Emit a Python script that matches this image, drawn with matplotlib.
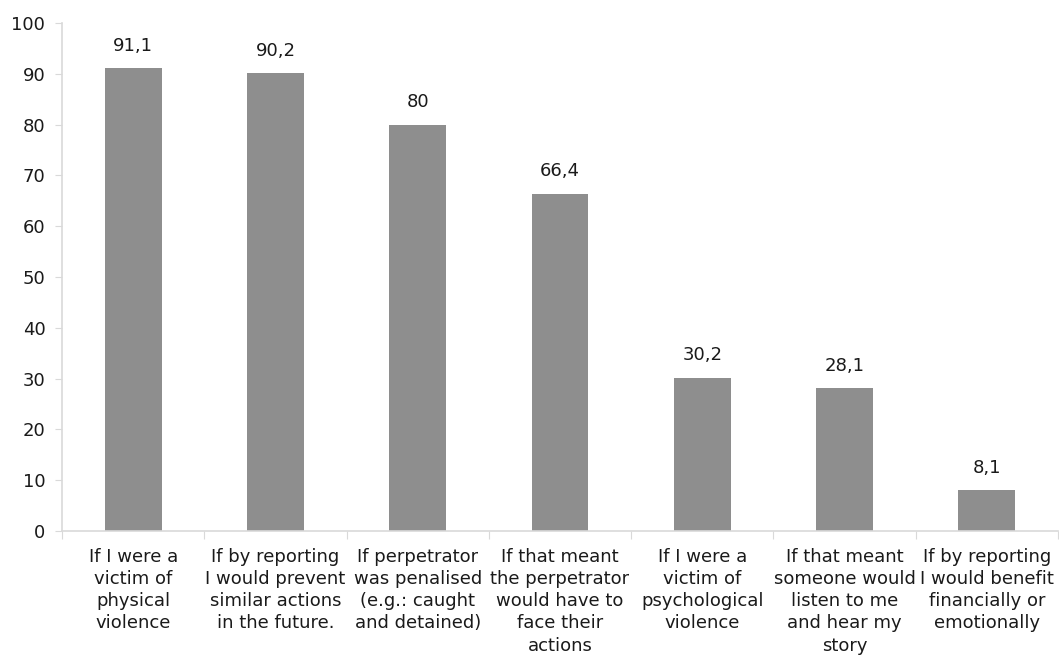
import numpy as np
import matplotlib.pyplot as plt

categories = [
    "If I were a\nvictim of\nphysical\nviolence",
    "If by reporting\nI would prevent\nsimilar actions\nin the future.",
    "If perpetrator\nwas penalised\n(e.g.: caught\nand detained)",
    "If that meant\nthe perpetrator\nwould have to\nface their\nactions",
    "If I were a\nvictim of\npsychological\nviolence",
    "If that meant\nsomeone would\nlisten to me\nand hear my\nstory",
    "If by reporting\nI would benefit\nfinancially or\nemotionally",
]
values = [91.1, 90.2, 80, 66.4, 30.2, 28.1, 8.1]
value_labels = ["91,1", "90,2", "80", "66,4", "30,2", "28,1", "8,1"]

plt.rcParams["font.family"] = "DejaVu Sans"

fig = plt.figure(figsize=(10.59, 6.65), dpi=100)
ax = fig.add_axes([62 / 1059, (665 - 531) / 665, 996 / 1059, 508 / 665])

x = np.arange(len(values))
ax.bar(x, values, width=0.4, color="#8e8e8e")

# value labels above bars
for xi, v, lab in zip(x, values, value_labels):
    ax.text(xi, v + 2.6, lab, ha="center", va="bottom", fontsize=13, color="#1a1a1a")

ax.set_xlim(-0.5, len(values) - 0.5)
ax.set_ylim(0, 100)
ax.set_yticks(range(0, 101, 10))
ax.tick_params(axis="y", labelsize=13, length=5, color="#d9d9d9", labelcolor="#1a1a1a", pad=7)

# tick marks between categories, labels drawn as text
ax.set_xticks(np.arange(-0.5, len(values), 1))
ax.set_xticklabels([])
ax.tick_params(axis="x", length=6, color="#d9d9d9")
for xi, cat in zip(x, categories):
    ax.text(xi, -3.3, cat, ha="center", va="top", fontsize=13, color="#1a1a1a",
            linespacing=1.3)

for side in ["top", "right"]:
    ax.spines[side].set_visible(False)
for side in ["left", "bottom"]:
    ax.spines[side].set_color("#d9d9d9")
    ax.spines[side].set_linewidth(1.2)

fig.savefig("out.png", dpi=100)
